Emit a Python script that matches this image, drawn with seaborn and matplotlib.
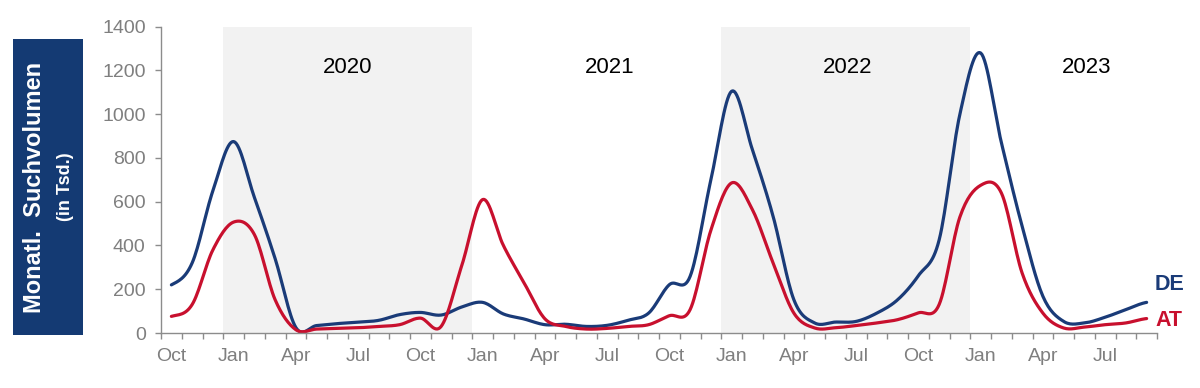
import numpy as np
import pandas as pd
import matplotlib.pyplot as plt
import seaborn as sns
from matplotlib.patches import Rectangle

# Data: monthly search volume (in thousand), Oct 2019 .. Sep 2023
MONTHS = ["Oct", "Nov", "Dec", "Jan", "Feb", "Mar", "Apr", "May", "Jun", "Jul", "Aug", "Sep"] * 4
YEARS = ["2020", "2021", "2022", "2023"]

DE = [220, 320, 650, 875, 620, 340, 25, 34, 43, 49, 58, 84,
      94, 82, 119, 140, 87, 64, 38, 40, 30, 35, 58, 91,
      221, 259, 700, 1105, 838, 533, 152, 46, 50, 53, 91, 152,
      262, 425, 1000, 1280, 870, 488, 168, 53, 46, 72, 107, 140]

AT = [76, 130, 380, 507, 450, 152, 15, 18, 21, 24, 30, 38,
      68, 30, 310, 610, 400, 229, 65, 30, 18, 21, 30, 38,
      79, 107, 470, 686, 564, 320, 91, 23, 24, 34, 46, 61,
      92, 130, 530, 675, 640, 274, 91, 23, 27, 38, 46, 66]

NAVY = "#1A3B78"
RED = "#C8102E"
BOX = "#143A73"
GREY = "#7F7F7F"
SHADE = "#F2F2F2"

sns.set_theme(style="ticks")
plt.rcParams["font.family"] = ["Liberation Sans", "DejaVu Sans"]


def smooth(y, n=16):
    # Catmull-Rom smoothing like Excel's "smoothed line"
    y = np.asarray(y, dtype=float)
    p = np.concatenate([[y[0]], y, [y[-1]]])
    xs, ys = [], []
    for i in range(len(y) - 1):
        p0, p1, p2, p3 = p[i], p[i + 1], p[i + 2], p[i + 3]
        t = np.linspace(0, 1, n, endpoint=False)
        m1 = (p2 - p0) / 2
        m2 = (p3 - p1) / 2
        h = ((2 * t**3 - 3 * t**2 + 1) * p1 + (t**3 - 2 * t**2 + t) * m1
             + (-2 * t**3 + 3 * t**2) * p2 + (t**3 - t**2) * m2)
        xs.extend(i + t)
        ys.extend(h)
    xs.append(len(y) - 1)
    ys.append(y[-1])
    return np.array(xs), np.array(ys)


frames = []
for name, vals in [("DE", DE), ("AT", AT)]:
    sx, sy = smooth(vals)
    frames.append(pd.DataFrame({"pos": sx, "value": sy, "country": name}))
df = pd.concat(frames, ignore_index=True)

fig = plt.figure(figsize=(12, 3.88), dpi=100)
ax = fig.add_axes([161 / 1200, 1 - 333 / 388, 996 / 1200, (333 - 26.7) / 388])

# shaded years
ax.axvspan(2.5, 14.5, color=SHADE, zorder=0, lw=0)
ax.axvspan(26.5, 38.5, color=SHADE, zorder=0, lw=0)

sns.lineplot(data=df, x="pos", y="value", hue="country",
             palette={"DE": NAVY, "AT": RED}, estimator=None,
             linewidth=2.3, legend=False, ax=ax)

ax.set_xlim(-0.5, 47.5)
ax.set_ylim(0, 1400)
ax.set_xlabel("")
ax.set_ylabel("")

for s in ["top", "right"]:
    ax.spines[s].set_visible(False)
for s in ["left", "bottom"]:
    ax.spines[s].set_color("#8C8C8C")
    ax.spines[s].set_linewidth(1)

ax.set_yticks(range(0, 1401, 200))
ax.tick_params(axis="y", length=4, width=1, color="#8C8C8C", pad=7,
               labelsize=14, labelcolor=GREY)

major = list(range(0, 48, 3))
ax.set_xticks(major)
ax.set_xticklabels([MONTHS[i] for i in major])
ax.set_xticks(np.arange(-0.5, 48, 1), minor=True)
ax.tick_params(axis="x", which="major", length=0, pad=11,
               labelsize=14, labelcolor=GREY)
ax.tick_params(axis="x", which="minor", length=4, width=1, color="#8C8C8C")

# year labels
for xpos, yr in zip([8.5, 21.1, 32.6, 44.1], YEARS):
    ax.text(xpos, 1213, yr, ha="center", va="center", fontsize=16, color="black")

# series labels
fig.text(1155 / 1200, 1 - 285 / 388, "DE", ha="left", va="center",
         fontsize=15.5, fontweight="bold", color=NAVY)
fig.text(1155 / 1200, 1 - 320 / 388, "AT", ha="left", va="center",
         fontsize=15.5, fontweight="bold", color=RED)

# y label box
fig.add_artist(Rectangle((13 / 1200, 53 / 388), 70 / 1200, 296 / 388,
                         transform=fig.transFigure, color=BOX, lw=0))
fig.text(35 / 1200, 1 - 187 / 388, "Monatl.  Suchvolumen", rotation=90,
         ha="center", va="center", fontsize=17, fontweight="bold", color="white")
fig.text(65 / 1200, 1 - 187 / 388, "(in Tsd.)", rotation=90,
         ha="center", va="center", fontsize=13, fontweight="bold", color="white")

fig.savefig("out.png", dpi=100)
